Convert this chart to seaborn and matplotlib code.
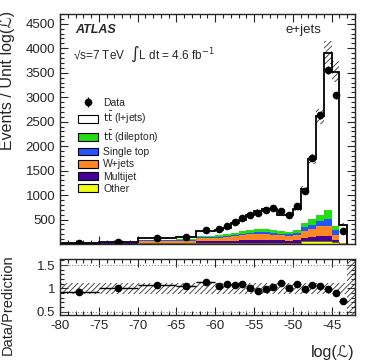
import numpy as np
import pandas as pd
import matplotlib
matplotlib.use('Agg')
import matplotlib.pyplot as plt
from matplotlib.patches import Patch
from matplotlib.ticker import MultipleLocator, FixedLocator
import seaborn as sns

# bin edges in log(L), variable width
edges = [-80, -75, -70, -65, -62.5, -60, -59, -58, -57, -56, -55, -54, -53,
         -52, -51, -50, -49, -48, -47, -46, -45, -44, -43]

# events / unit log(L)
data = [22, 45, 123, 150, 294, 308, 361, 451, 539, 594, 635, 702, 737, 667,
        600, 784, 1076, 1753, 2627, 3559, 3035, 259]
data_err = [8, 10, 12, 15, 20, 25, 27, 30, 33, 35, 36, 38, 39, 37, 35, 40,
            47, 60, 75, 85, 80, 25]

ttbar_ljets = [2, 7, 33, 50, 94, 105, 125, 187, 230, 298, 368, 416, 429, 336,
               350, 439, 694, 1227, 2006, 3221, 3149, 366]
ttbar_dilep = [1, 3, 10, 14, 34, 38, 42, 48, 55, 60, 63, 63, 58, 55, 52, 57,
               85, 125, 140, 180, 95, 5]
single_top = [1, 3, 10, 12, 21, 22, 25, 28, 32, 35, 37, 37, 35, 32, 30, 35,
              70, 75, 95, 130, 90, 5]
wjets = [8, 15, 40, 45, 61, 65, 75, 90, 105, 120, 125, 125, 115, 105, 100,
         115, 155, 165, 200, 210, 100, 10]
multijet = [6, 8, 10, 12, 35, 38, 40, 42, 44, 45, 45, 45, 44, 45, 42, 45,
            65, 85, 100, 95, 45, 5]
other = [6, 8, 12, 12, 20, 22, 24, 26, 28, 30, 30, 30, 28, 28, 26, 28, 55,
         60, 65, 70, 45, 5]

# data / prediction panel
ratio = [0.93, 1.015, 1.07, 1.05, 1.14, 1.06, 1.09, 1.07, 1.09, 1.01, 0.95,
         0.98, 1.04, 1.11, 1.0, 1.09, 0.98, 1.07, 1.05, 0.99, 0.91, 0.72]
ratio_err = [0.07, 0.05, 0.03, 0.03, 0.03, 0.03, 0.03, 0.03, 0.02, 0.02,
             0.02, 0.02, 0.02, 0.02, 0.02, 0.02, 0.02, 0.02, 0.02, 0.02,
             0.02, 0.04]
pred_unc = 0.06
ratio_band = (0.88, 1.12)

procs = ['ttbar_lj', 'ttbar_dl', 'single_top', 'wjets', 'multijet', 'other']
proc_labels = [r'$\mathrm{t\bar{t}}$ (l+jets)', r'$\mathrm{t\bar{t}}$ (dilepton)',
               'Single top', 'W+jets', 'Multijet', 'Other']
colors = ['#ffffff', '#22dd11', '#2255ff', '#ff8822', '#440099', '#eeff11']

sns.set_style('ticks')
plt.rcParams['font.family'] = ['Liberation Sans', 'DejaVu Sans']
plt.rcParams['axes.unicode_minus'] = False
plt.rcParams['hatch.linewidth'] = 0.6
plt.rcParams['mathtext.fontset'] = 'dejavusans'

W, H = 374, 363
fig = plt.figure(figsize=(W / 100, H / 100), dpi=100)


def px_box(left, top, right, bottom):
    return [left / W, 1 - bottom / H, (right - left) / W, (bottom - top) / H]


def fx(px):
    return px / W


def fy(py):
    return 1 - py / H


ax = fig.add_axes(px_box(60, 14, 355, 244))
ax2 = fig.add_axes(px_box(60, 259, 355, 315))

edges_a = np.array(edges, dtype=float)
centers = (edges_a[:-1] + edges_a[1:]) / 2
half_w = (edges_a[1:] - edges_a[:-1]) / 2

comps = [ttbar_ljets, ttbar_dilep, single_top, wjets, multijet, other]
rows = []
for name, vals in zip(procs, comps):
    for c, v in zip(centers, vals):
        rows.append({'logL': c, 'events': v, 'process': name})
df = pd.DataFrame(rows)

sns.histplot(data=df, x='logL', weights='events', hue='process',
             hue_order=procs, bins=edges, multiple='stack', element='step',
             fill=True, palette=dict(zip(procs, colors)), alpha=1,
             linewidth=0, legend=False, ax=ax)

total = np.sum(np.array(comps, dtype=float), axis=0)
ax.stairs(other, edges, color='#555522', lw=0.6, baseline=0)
ax.stairs(total * (1 + pred_unc), edges, baseline=total * (1 - pred_unc),
          fill=True, facecolor='none', edgecolor='0.2', hatch='//////', lw=0)
ax.stairs(total, edges, color='black', lw=1.3, baseline=0)
eb = ax.errorbar(centers, data, yerr=data_err, fmt='o', color='black',
                 markersize=4.5, elinewidth=1, capsize=0)

ax.set_xlim(-80, -42)
ax.set_ylim(0, 4700)
ax.set_xlabel('')
ax.set_ylabel('')
ax.xaxis.set_major_locator(MultipleLocator(5))
ax.xaxis.set_minor_locator(MultipleLocator(1))
ax.yaxis.set_major_locator(FixedLocator(np.arange(500, 4501, 500)))
ax.yaxis.set_minor_locator(MultipleLocator(100))
ax.tick_params(which='both', direction='in', top=True, right=True,
               labelbottom=False, labelsize=9.5, width=0.8)
ax.tick_params(which='major', length=6)
ax.tick_params(which='minor', length=3)

handles = [eb] + [Patch(facecolor=c, edgecolor='black', lw=0.8) for c in colors]
ax.legend(handles, ['Data'] + proc_labels, loc='upper left',
          bbox_to_anchor=(fx(78), fy(98)), bbox_transform=fig.transFigure,
          frameon=False, fontsize=7.5, handlelength=1.9, handleheight=0.8,
          handletextpad=0.5, labelspacing=0.22, borderpad=0, borderaxespad=0)

fig.text(fx(75), fy(30), 'ATLAS', fontsize=9, fontweight='bold',
         fontstyle='italic', va='center')
fig.text(fx(73), fy(54), '\u221as=7 TeV  $\\int$L dt = 4.6 fb$^{-1}$',
         fontsize=8.5, va='center')
fig.text(fx(321), fy(30), 'e+jets', fontsize=9.5, ha='right', va='center')

# ratio panel
ax2.fill_between([-80, -43], ratio_band[0], ratio_band[1], facecolor='none',
                 edgecolor='0.2', hatch='//////', lw=0)
ax2.fill_between([-43, -42], 0.43, 1.63, facecolor='none', edgecolor='0.2',
                 hatch='//////', lw=0)
for yv in (0.5, 1.5):
    ax2.axhline(yv, color='0.5', ls=':', lw=0.8)
ax2.errorbar(centers, ratio, xerr=half_w, yerr=ratio_err, fmt='o',
             color='black', markersize=4.5, elinewidth=1, capsize=0)
ax2.set_xlim(-80, -42)
ax2.set_ylim(0.43, 1.63)
ax2.xaxis.set_major_locator(MultipleLocator(5))
ax2.xaxis.set_minor_locator(MultipleLocator(1))
ax2.set_yticks([0.5, 1, 1.5])
ax2.set_yticklabels(['0.5', '1', '1.5'])
ax2.yaxis.set_minor_locator(MultipleLocator(0.1))
ax2.xaxis.set_major_formatter(matplotlib.ticker.FormatStrFormatter('%g'))
ax2.tick_params(which='both', direction='in', top=True, right=True,
                labelsize=9.5, width=0.8)
ax2.tick_params(which='major', length=6)
ax2.tick_params(which='minor', length=3)

for a in (ax, ax2):
    for s in a.spines.values():
        s.set_linewidth(1)

fig.text(fx(8), fy(11), 'Events / Unit log(\u2112)', rotation=90,
         ha='center', va='top', fontsize=11.5)
fig.text(fx(8), fy(254), 'Data/Prediction', rotation=90,
         ha='center', va='top', fontsize=10.5)
fig.text(fx(355), fy(353), 'log(\u2112)', ha='right', va='center',
         fontsize=11.5)

fig.savefig('out.png', dpi=100)
